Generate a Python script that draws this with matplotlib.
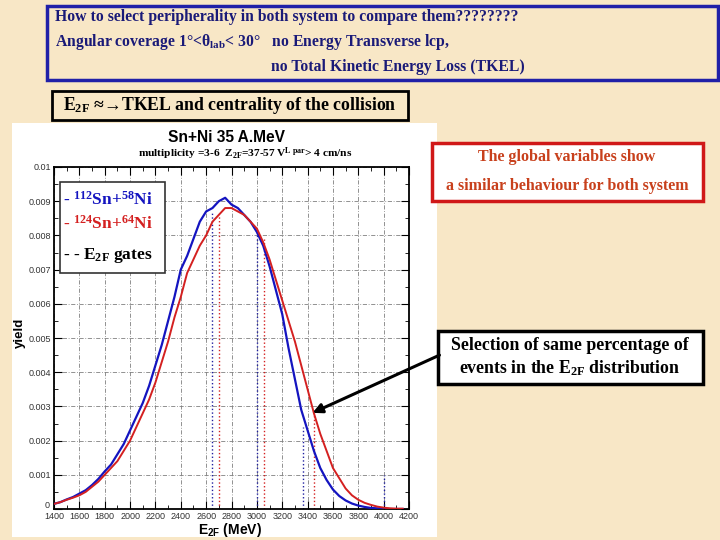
import numpy as np
import matplotlib
matplotlib.use("Agg")
import matplotlib.pyplot as plt
from matplotlib.patches import Rectangle, FancyArrowPatch

plt.rcParams['mathtext.fontset'] = 'custom'
plt.rcParams['mathtext.rm'] = 'Liberation Serif'
plt.rcParams['mathtext.bf'] = 'Liberation Serif:bold'
plt.rcParams['mathtext.it'] = 'Liberation Serif:italic'
plt.rcParams['mathtext.sf'] = 'Liberation Sans:bold'
plt.rcParams['mathtext.default'] = 'regular'

# E2F bin centres (MeV), every 50 MeV from 1400 to 4150
e2f = np.arange(1400, 4151, 50)

# 112Sn+58Ni (blue)
yield_112 = [0.00015, 0.0002, 0.00028, 0.00035, 0.00045, 0.00055, 0.0007, 0.00088,
             0.0011, 0.0013, 0.0016, 0.0019, 0.0023, 0.0027, 0.0031, 0.0036,
             0.0042, 0.0048, 0.0055, 0.0062, 0.0070, 0.0074, 0.0079, 0.0084,
             0.0087, 0.0088, 0.0090, 0.0091, 0.0089, 0.0088, 0.0086, 0.0084,
             0.0081, 0.0077, 0.0071, 0.0064, 0.0057, 0.0047, 0.0038, 0.0029,
             0.0023, 0.0017, 0.0012, 0.00085, 0.00057, 0.00038, 0.00025, 0.00016,
             0.0001, 0.00006, 0.00003, 0.00002, 0.00001, 0.0, 0.0, 0.0]

# 124Sn+64Ni (red)
yield_124 = [0.00015, 0.0002, 0.00027, 0.00033, 0.0004, 0.0005, 0.00065, 0.0008,
             0.001, 0.0012, 0.0014, 0.0017, 0.0020, 0.0024, 0.0028, 0.0032,
             0.0037, 0.0043, 0.0049, 0.0056, 0.0062, 0.0069, 0.0073, 0.0077,
             0.0080, 0.0084, 0.0086, 0.0088, 0.0088, 0.0087, 0.0086, 0.0084,
             0.0082, 0.0078, 0.0073, 0.0067, 0.0061, 0.0055, 0.0049, 0.0042,
             0.0035, 0.0028, 0.0022, 0.0017, 0.0012, 0.0009, 0.0006, 0.0004,
             0.00027, 0.00018, 0.00012, 0.00007, 0.00004, 0.00002, 0.00001, 0.00001]

# E2F gates
gates_112_x = [2650, 3000, 3360, 4000]
gates_112_top = [0.0087, 0.0081, 0.0024, 0.001]
gates_124_x = [2700, 3060, 3450]
gates_124_top = [0.0086, 0.0079, 0.0028]

x_ticks = list(range(1400, 4201, 200))
y_ticks = [0, 0.001, 0.002, 0.003, 0.004, 0.005, 0.006, 0.007, 0.008, 0.009, 0.01]
y_tick_labels = ['', '0.001', '0.002', '0.003', '0.004', '0.005', '0.006',
                 '0.007', '0.008', '0.009', '0.01']

W, H = 720, 540
def fx(px):
    return px / W
def fy(py):
    return 1 - py / H

beige = '#f8e7c6'
serif = ['Liberation Serif', 'DejaVu Serif']
sans = ['Liberation Sans', 'DejaVu Sans']

fig = plt.figure(figsize=(7.2, 5.4), dpi=100, facecolor=beige)

def box(x0, y0, x1, y1, ec, lw, fc):
    fig.add_artist(Rectangle((fx(x0), fy(y1)), (x1 - x0) / W, (y1 - y0) / H,
                             transform=fig.transFigure, facecolor=fc,
                             edgecolor=ec, linewidth=lw, zorder=0))

# white background of the pasted plot
box(12, 123, 437, 537, 'none', 0, 'white')

# top question box
box(47, 6, 718, 80, '#2020a8', 2.5, beige)
navy = '#1a1a78'
fig.text(fx(55), fy(17), 'How to select peripherality in both system to compare them????????',
         family=serif, fontsize=11.3, fontweight='bold', color=navy, va='center')
fig.text(fx(55), fy(42), r'Angular coverage 1°<$\mathbf{\theta_{lab}}$< 30°   no Energy Transverse lcp,',
         family=serif, fontsize=11.3, fontweight='bold', color=navy, va='center')
fig.text(fx(271), fy(67), 'no Total Kinetic Energy Loss (TKEL)',
         family=serif, fontsize=11.3, fontweight='bold', color=navy, va='center')

# E2F box
box(52, 91, 408, 120, 'black', 2, beige)
fig.text(fx(63), fy(105), r'E$_{\mathbf{2F}}$ ≈→TKEL and centrality of the collision',
         family=serif, fontsize=12.8, fontweight='bold', color='black', va='center')

# main plot
ax = fig.add_axes([fx(54), fy(509), (409 - 54) / W, (509 - 167) / H])
ax.set_facecolor('white')
ax.plot(e2f, yield_112, color='#1414c0', linewidth=1.6, zorder=3)
ax.plot(e2f, yield_124, color='#d42020', linewidth=1.4, zorder=3)
ax.vlines(gates_112_x, 0, gates_112_top, colors='#2020a0', linestyles=':', linewidth=1.0, zorder=2)
ax.vlines(gates_124_x, 0, gates_124_top, colors='#d42020', linestyles=':', linewidth=1.0, zorder=2)

ax.set_xlim(1400, 4200)
ax.set_ylim(0, 0.01)
ax.set_xticks(x_ticks)
ax.set_xticklabels([str(t) for t in x_ticks])
ax.set_yticks(y_ticks)
ax.set_yticklabels(y_tick_labels)
ax.set_xticks(np.arange(1500, 4200, 200), minor=True)
ax.set_yticks(np.arange(0.0005, 0.01, 0.001), minor=True)
ax.tick_params(direction='in', which='major', length=6, labelsize=6.5, right=True,
               top=True, labelcolor='#333333', pad=2)
ax.tick_params(direction='in', which='minor', length=3, right=True, top=True)
for lab in ax.get_xticklabels() + ax.get_yticklabels():
    lab.set_family(sans)
ax.grid(True, which='major', linestyle=(0, (5, 2, 1, 2)), color='#808080', linewidth=0.6)
for s in ax.spines.values():
    s.set_linewidth(1.3)
# the y "0" label sits just above the corner, as in the original
fig.text(fx(50), fy(505), '0', family=sans, fontsize=6.5, color='#333333',
         ha='right', va='center')

# legend box
ax.add_patch(Rectangle((0.017, 0.69), 0.296, 0.265, transform=ax.transAxes,
                       facecolor='white', edgecolor='#333333', linewidth=1.2, zorder=5))
ax.text(0.025, 0.905, r'- $^{112}$Sn+$^{58}$Ni', transform=ax.transAxes, family=serif,
        fontweight='bold', fontsize=12.5, color='#1414c0', va='center', zorder=6)
ax.text(0.025, 0.835, r'- $^{124}$Sn+$^{64}$Ni', transform=ax.transAxes, family=serif,
        fontweight='bold', fontsize=12.5, color='#d42020', va='center', zorder=6)
ax.text(0.025, 0.74, r'- - E$_{\mathbf{2F}}$ gates', transform=ax.transAxes, family=serif,
        fontweight='bold', fontsize=12.5, color='black', va='center', zorder=6)

fig.text(fx(227), fy(137), 'Sn+Ni 35 A.MeV', family=sans, fontweight='bold',
         fontsize=11.2, ha='center', va='center')
fig.text(fx(245), fy(154), r'multiplicity =3-6  Z$_{\mathbf{2F}}$=37-57 V$^{\mathbf{L\ par}}$> 4 cm/ns',
         family=serif, fontweight='bold', fontsize=8.2, ha='center', va='center')
fig.text(fx(20), fy(333), 'yield', family=sans, fontweight='bold', fontsize=9.5,
         rotation=90, ha='center', va='center')
fig.text(fx(230), fy(530), r'$\mathsf{E_{2F}}$ (MeV)', family=sans, fontweight='bold',
         fontsize=10, ha='center', va='center')

# red remark box
box(432, 143, 703, 201, '#d01818', 2.5, 'white')
fig.text(fx(567), fy(157), 'The global variables show', family=serif, fontsize=11.5,
         fontweight='bold', color='#c8401c', ha='center', va='center')
fig.text(fx(567), fy(186), 'a similar behaviour for both system', family=serif, fontsize=11.5,
         fontweight='bold', color='#c8401c', ha='center', va='center')

# selection box
box(438, 331, 703, 384, 'black', 2.5, 'white')
fig.text(fx(570), fy(346), 'Selection of same percentage of', family=serif, fontsize=12.8,
         fontweight='bold', ha='center', va='center')
fig.text(fx(570), fy(368), r'events in the E$_{\mathbf{2F}}$ distribution', family=serif,
         fontsize=12.8, fontweight='bold', ha='center', va='center')

fig.add_artist(FancyArrowPatch((fx(442), fy(354)), (fx(310), fy(414)),
                               transform=fig.transFigure, arrowstyle='-|>',
                               mutation_scale=14, linewidth=2.2, color='black', zorder=10))

fig.savefig('out.png', dpi=100, facecolor=beige)
